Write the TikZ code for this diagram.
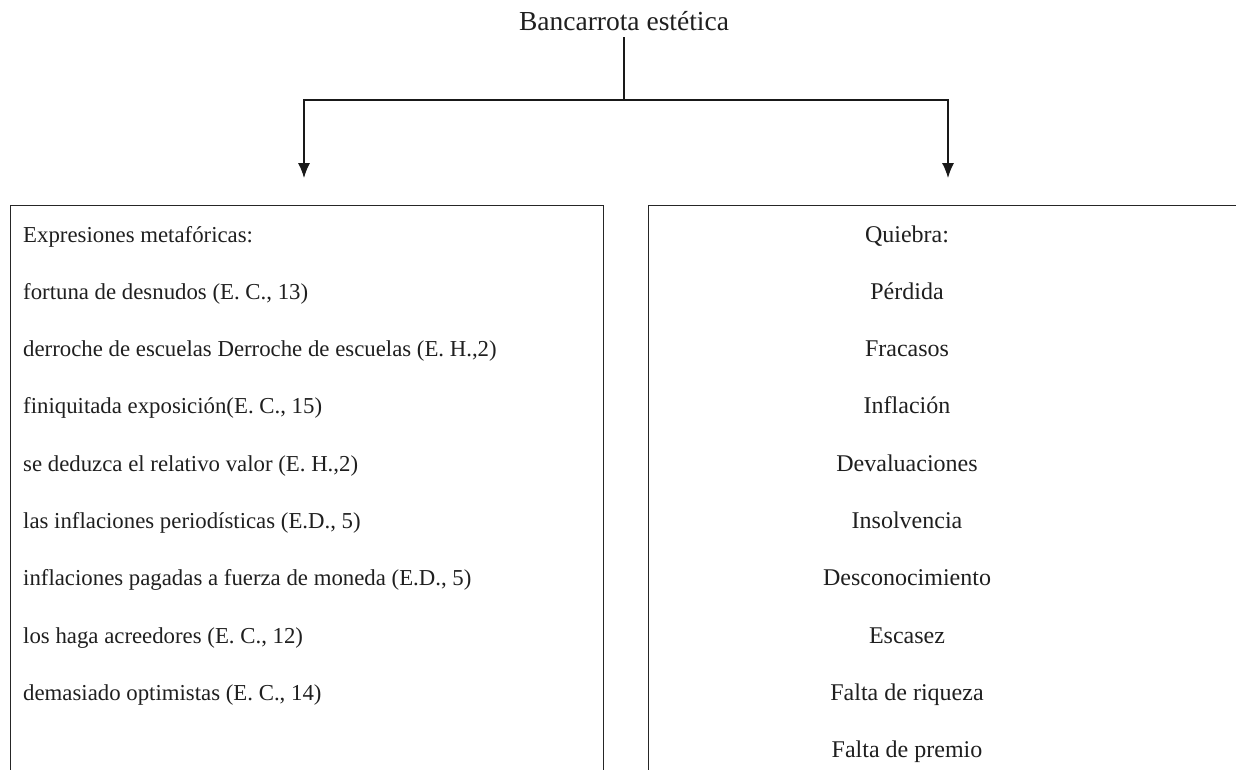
\documentclass[tikz,border=0pt]{standalone}
\usepackage{fontspec}
\setmainfont{Liberation Serif}
\usetikzlibrary{arrows.meta}
\begin{document}
\begin{tikzpicture}[x=1pt,y=-1pt,
  txt/.style={inner sep=0pt, text=black!88, font=\fontsize{22.8}{27}\selectfont},
  rtxt/.style={txt, font=\fontsize{24}{28}\selectfont},
  ttxt/.style={txt, font=\fontsize{27.5}{32}\selectfont, outer ysep=7pt},
  frame/.style={draw=black!85, line width=1.3pt, rectangle, inner sep=0pt, anchor=north west},
  conn/.style={draw=black!90, line width=1.2pt},
  arr/.style={conn, -{Latex[length=15pt,width=12pt]}}]
\useasboundingbox (0,0) rectangle (1236,769);
\clip (0,0) rectangle (1236,769);
% title
\node[ttxt, anchor=base] (title) at (624,30) {Bancarrota estética};
\coordinate (j) at (624,100);
\coordinate (la) at (304,178);
\coordinate (ra) at (948,178);
\draw[conn] (title.south -| j) -- (j);
\draw[arr] (j) -| (la);
\draw[arr] (j) -| (ra);
% boxes (open at the bottom / right, beyond the picture)
\node[frame, minimum width=593.5pt, minimum height=600pt] (L) at (9.5,205) {};
\node[frame, minimum width=620pt, minimum height=600pt] (R) at (648,205) {};
% left column
\foreach \t [count=\i from 0] in {
  {Expresiones metafóricas:},
  {fortuna de desnudos (E. C., 13)},
  {derroche de escuelas Derroche de escuelas (E. H.,2)},
  {finiquitada exposición(E. C., 15)},
  {se deduzca el relativo valor (E. H.,2)},
  {las inflaciones periodísticas (E.D., 5)},
  {inflaciones pagadas a fuerza de moneda (E.D., 5)},
  {los haga acreedores (E. C., 12)},
  {demasiado optimistas (E. C., 14)}}
  \node[txt, anchor=base west] (l\i) at (23,242+57.3*\i) {\t};
% right column
\foreach \t [count=\i from 0] in {
  {Quiebra:}, {Pérdida}, {Fracasos}, {Inflación}, {Devaluaciones},
  {Insolvencia}, {Desconocimiento}, {Escasez}, {Falta de riqueza},
  {Falta de premio}}
  \node[rtxt, anchor=base] (r\i) at (907,242+57.3*\i) {\t};
\end{tikzpicture}
\end{document}
